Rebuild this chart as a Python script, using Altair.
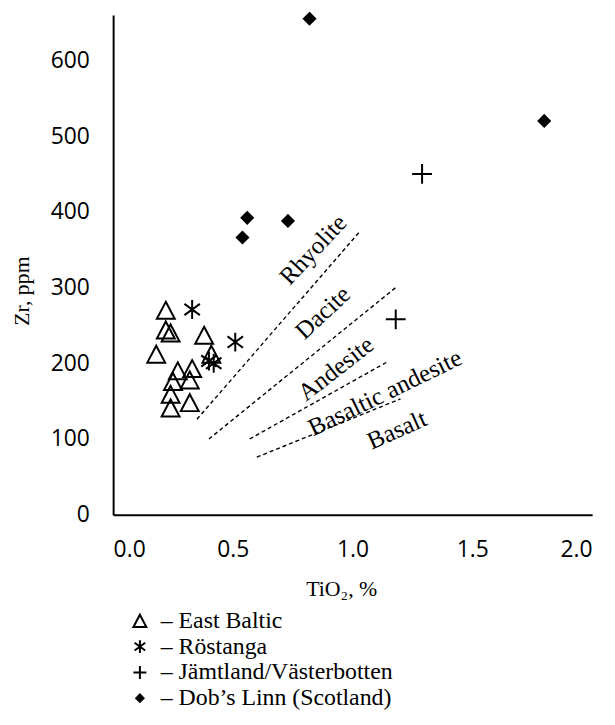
import altair as alt
import pandas as pd

# ---- data ----
series_names = ["East Baltic", "Röstanga", "Jämtland/Västerbotten", "Dob’s Linn (Scotland)"]

east_baltic_x = [0.22, 0.22, 0.24, 0.38, 0.18, 0.41, 0.27, 0.33, 0.25, 0.32, 0.24, 0.32, 0.24]
east_baltic_y = [270, 244, 240, 237, 212, 212, 190, 193, 176, 178, 159, 148, 141]

rostanga_x = [0.33, 0.51, 0.40, 0.42]
rostanga_y = [271, 228, 203, 200]

jamtland_x = [1.29, 1.18]
jamtland_y = [450, 258]

dobs_x = [0.82, 1.80, 0.56, 0.73, 0.54]
dobs_y = [655, 520, 392, 388, 366]

# field boundaries (dashed lines)
boundary_ids = ["rd", "rd", "da", "da", "ab", "ab", "bb", "bb"]
boundary_x = [0.35, 1.03, 0.40, 1.18, 0.57, 1.14, 0.60, 1.20]
boundary_y = [126, 374, 100, 300, 100, 201, 76, 153]

# field names
field_names = ["Rhyolite", "Dacite", "Andesite", "Basaltic andesite", "Basalt"]
field_x = [0.835, 0.875, 0.93, 1.135, 1.185]
field_y = [350, 267, 193, 161, 112]
field_angle = [313, 317, 322, 334, 336]

x_ticks = [0.0, 0.5, 1.0, 1.5, 2.0]
y_ticks = [0, 100, 200, 300, 400, 500, 600]

# ---- tables ----
rows = []
for name, xs_, ys_ in zip(series_names,
                          [east_baltic_x, rostanga_x, jamtland_x, dobs_x],
                          [east_baltic_y, rostanga_y, jamtland_y, dobs_y]):
    for a, b in zip(xs_, ys_):
        rows.append({"x": a, "y": b, "series": name})
pts = pd.DataFrame(rows)

lines = pd.DataFrame({"x": boundary_x, "y": boundary_y, "seg": boundary_ids})
labels = pd.DataFrame({"x": field_x, "y": field_y, "t": field_names, "ang": field_angle})

tri = "M0,-0.95L1,0.95L-1,0.95Z"
star = "M0,-1L0,1M-0.82,-0.6L0.82,0.6M-0.82,0.6L0.82,-0.6"
plus = "M0,-1L0,1M-1,0L1,0"
dia = "M0,-0.57L0.57,0L0,0.57L-0.57,0Z"
marker_sizes = [324, 361, 400, 400]

xs = alt.Scale(domain=[0, 2], nice=False, zero=False)
ys = alt.Scale(domain=[0, 660], nice=False)

xenc = alt.X("x:Q", scale=xs, title="TiO₂, %",
             axis=alt.Axis(values=x_ticks, format=".1f", titleX=230, titleY=74,
                           titleBaseline="middle", titleAlign="center"))
yenc = alt.Y("y:Q", scale=ys, title="Zr, ppm",
             axis=alt.Axis(values=y_ticks, format="d", titleX=-92, titleY=278,
                           titleAngle=270, titleBaseline="middle", titleAlign="center"))

leg = alt.Legend(labelExpr="'– ' + datum.label", orient="none", legendX=15, legendY=599,
                 title=None, symbolStrokeColor="black", symbolStrokeWidth=2)

line_layer = alt.Chart(lines).mark_line(
    color="black", strokeWidth=1.4, strokeDash=[4, 3]
).encode(x=xenc, y=yenc, detail="seg:N")

text_layer = alt.Chart(labels).mark_text(
    font="Liberation Serif", fontSize=25, color="black", align="center", baseline="middle"
).encode(x=alt.X("x:Q", scale=xs), y=alt.Y("y:Q", scale=ys), text="t:N",
         angle=alt.Angle("ang:Q", scale=None))

point_layers = []
for name, sz in zip(series_names, marker_sizes):
    point_layers.append(
        alt.Chart(pts).transform_filter(alt.datum.series == name).mark_point(
            filled=True, strokeWidth=2, opacity=1, size=sz
        ).encode(
            x=alt.X("x:Q", scale=xs),
            y=alt.Y("y:Q", scale=ys),
            shape=alt.Shape("series:N", title=None, legend=leg,
                            scale=alt.Scale(domain=series_names, range=[tri, star, plus, dia])),
            fill=alt.Fill("series:N", title=None, legend=leg,
                          scale=alt.Scale(domain=series_names,
                                          range=["transparent", "transparent", "transparent", "black"])),
            stroke=alt.Stroke("series:N", title=None, legend=leg,
                              scale=alt.Scale(domain=series_names,
                                              range=["black", "black", "black", "black"])),
        )
    )

chart = alt.layer(line_layer, text_layer, *point_layers).properties(
    width=483, height=504,
    autosize=alt.AutoSizeParams(type="none"),
    padding={"left": 106, "top": 4, "right": 15, "bottom": 201},
).configure_view(stroke=None).configure_axis(
    grid=False, ticks=False, domainColor="black", domainWidth=2,
    labelFont="Open Sans", labelFontSize=23, labelColor="black", labelPadding=24,
    titleFont="Liberation Serif", titleFontSize=22, titleFontWeight="normal", titleColor="black",
).configure_legend(
    padding=0,
    labelFont="Liberation Serif", labelFontSize=24, labelColor="black",
    labelOffset=9, rowPadding=2,
    symbolSize=170, symbolStrokeColor="black", symbolStrokeWidth=2,
    labelLimit=400,
)

chart.save("out.html", embed_options={"renderer": "svg", "actions": False})
